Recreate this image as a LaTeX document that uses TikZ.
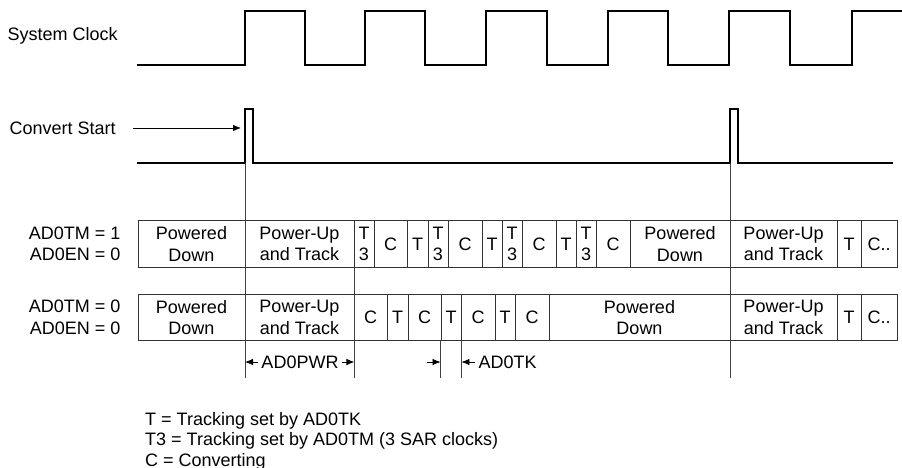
\documentclass[tikz,border=0pt]{standalone}
\usepackage{fontspec}
\setmainfont{Liberation Sans}
\usetikzlibrary{arrows.meta}

\begin{document}
\begin{tikzpicture}[x=1pt,y=-1pt,
  every node/.style={font=\fontsize{18}{21.5}\selectfont},
  cell/.style={draw=black!80,line width=0.9pt,inner sep=0pt,minimum height=46.5pt,align=center},
  wave/.style={line width=2.8pt},
  guide/.style={draw=black!75,line width=0.9pt},
  dimarrow/.style={-{Latex[length=8pt,width=6.5pt]},line width=0.8pt}]
\useasboundingbox (0,0) rectangle (902,468);
\node[anchor=west] (clk) at (4,36) {System Clock};
\draw[wave] (137,65) -| (245,11) -| (305,65) -| (365,11) -| (425,65) -| (486,11) -| (547,65) -| (608,11) -| (668,65) -| (729,11) -| (790,65) -| (852,11) -- (903,11);
\node[anchor=west] (cs) at (6,128) {Convert Start};
\coordinate (p1) at (245,163);
\coordinate (p2) at (730,163);
\coordinate (csin) at (241,128);
\draw[wave] (137,163) -- (p1) |- (253,109) |- (p2) |- (738,109) |- (893,163);
\draw[dimarrow] ([xshift=14pt]cs.east) -- (csin);
\node[anchor=east,align=right] (tmA) at (124,244) {AD0TM = 1\\AD0EN = 0};
\node[anchor=east,align=right] (tmB) at (124,317.5) {AD0TM = 0\\AD0EN = 0};
\foreach \a/\b/\t [count=\i] in {138/245/{Powered\\Down}, 245/354/{Power-Up\\and Track}, 354/374/{T\\3}, 374/407/C, 407/428/T, 428/448/{T\\3}, 448/482/C, 482/502/T, 502/522/{T\\3}, 522/556/C, 556/576/T, 576/596/{T\\3}, 596/630/C, 630/730/{Powered\\Down}, 730/837/{Power-Up\\and Track}, 837/861/T, 861/897/C..}
  \node[cell,minimum width={(\b-\a)*1pt}] (tmA\i) at ({(\a+\b)/2},244) {\t};
\foreach \a/\b/\t [count=\i] in {138/245/{Powered\\Down}, 245/354/{Power-Up\\and Track}, 354/387/C, 387/408/T, 408/441/C, 441/461/T, 461/495/C, 495/515/T, 515/549/C, 549/730/{Powered\\Down}, 730/837/{Power-Up\\and Track}, 837/861/T, 861/897/C..}
  \node[cell,minimum width={(\b-\a)*1pt}] (tmB\i) at ({(\a+\b)/2},317.5) {\t};
\coordinate (foot) at (0,378);
\draw[guide] (p1) -- (p1 |- foot);
\draw[guide] (p2) -- (p2 |- foot);
\draw[guide] (tmA2.south east) -- (tmA2.south east |- foot);
\draw[guide] (tmB6.south west) -- (tmB6.south west |- foot);
\draw[guide] (tmB6.south east) -- (tmB6.south east |- foot);
\node (pwr) at (300,362) {AD0PWR};
\draw[dimarrow] (pwr.west) -- (pwr.west -| p1);
\draw[dimarrow] (pwr.east) -- (pwr.east -| tmA2.east);
\node[anchor=west] (tk) at (475,362) {AD0TK};
\coordinate (tkin) at (427,362);
\draw[dimarrow] (tk.west) -- (tk.west -| tmB6.east);
\draw[dimarrow] (tkin) -- (tkin -| tmB6.west);
\node[anchor=north west,align=left,inner sep=0pt,font=\fontsize{18}{20.5}\selectfont] (key) at (145,412) {T = Tracking set by AD0TK\\T3 = Tracking set by AD0TM (3 SAR clocks)\\C = Converting};
\end{tikzpicture}
\end{document}
